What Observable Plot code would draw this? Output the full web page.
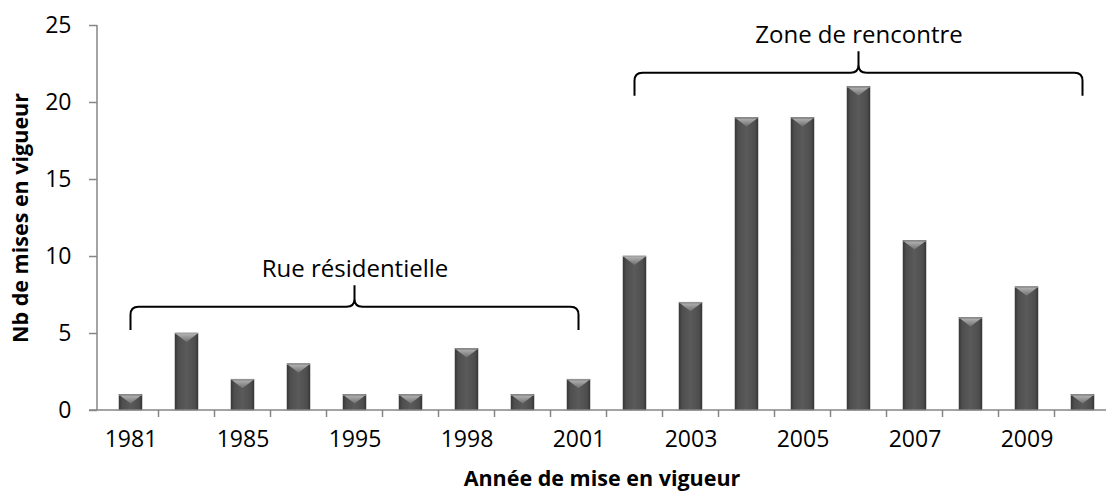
<!DOCTYPE html>
<html>
<head>
<meta charset="utf-8">
<script src="https://cdn.jsdelivr.net/npm/d3@7"></script>
<script src="https://cdn.jsdelivr.net/npm/@observablehq/plot@0.6"></script>
<style>
  html, body { margin: 0; padding: 0; background: #fff; overflow: hidden; }
  #chart svg { display: block; }
</style>
</head>
<body>
<svg width="0" height="0" style="position:absolute">
  <defs>
    <linearGradient id="barGrad" x1="0" x2="1" y1="0" y2="0">
      <stop offset="0%" stop-color="#383838"/>
      <stop offset="14%" stop-color="#4e4e4e"/>
      <stop offset="50%" stop-color="#5a5a5a"/>
      <stop offset="86%" stop-color="#4e4e4e"/>
      <stop offset="100%" stop-color="#383838"/>
    </linearGradient>
    <linearGradient id="bevelGrad" x1="0" x2="0" y1="0" y2="1">
      <stop offset="0%" stop-color="#b0b0b0"/>
      <stop offset="100%" stop-color="#707070"/>
    </linearGradient>
  </defs>
</svg>
<div id="chart"></div>
<script>
// ---- data ----
const years  = ["1981","1983","1985","1990","1995","1996","1998","1999","2001","2002","2003","2004","2005","2006","2007","2008","2009","2010"];
const counts = [1, 5, 2, 3, 1, 1, 4, 1, 2, 10, 7, 19, 19, 21, 11, 6, 8, 1];
const shownLabels = ["1981","1985","1995","1998","2001","2003","2005","2007","2009"];
const yTicks = [0, 5, 10, 15, 20, 25];

// annotation braces (in data terms: category span, middle category, value levels)
const braceNames  = ["Rue résidentielle", "Zone de rencontre"];
const braceFrom   = ["1981", "2002"];
const braceTo     = ["2001", "2010"];
const braceMid    = ["1995", "2006"];
const braceLine   = [6.7, 21.9];   // horizontal stroke level
const braceEnd    = [5.2, 20.4];   // level of the end hooks
const braceTip    = [8.1, 23.3];   // level of the middle tip
const braceText   = [9.2, 24.35];  // level of the label

const yLabel = "Nb de mises en vigueur";
const xLabel = "Année de mise en vigueur";

const data = years.map((y, i) => ({year: y, count: counts[i]}));
const braces = braceNames.map((n, i) => ({
  name: n, from: braceFrom[i], to: braceTo[i], mid: braceMid[i],
  line: braceLine[i], end: braceEnd[i], tip: braceTip[i], text: braceText[i]
}));

const FONT = "'Open Sans', Lato, sans-serif";
const AXIS = "#868686";

function axesMark(index, scales, values, dimensions) {
  const x = scales.x, y = scales.y;
  const step = x.step ? x.step() : (x(years[1]) - x(years[0]));
  const bw = x.bandwidth ? x.bandwidth() : 0;
  const g = d3.create("svg:g");
  const y0 = y(0);
  g.append("line").attr("x1", dimensions.marginLeft).attr("x2", dimensions.marginLeft)
    .attr("y1", y(25)).attr("y2", y0).attr("stroke", AXIS).attr("stroke-width", 1.5);
  g.append("line").attr("x1", dimensions.marginLeft - 8).attr("x2", dimensions.width)
    .attr("y1", y0).attr("y2", y0).attr("stroke", AXIS).attr("stroke-width", 1.5);
  years.forEach((yr, i) => {
    if (i === 0) return;
    const bx = x(yr) + bw / 2 - step / 2;
    g.append("line").attr("x1", bx).attr("x2", bx).attr("y1", y0).attr("y2", y0 + 7)
      .attr("stroke", AXIS).attr("stroke-width", 1.5);
  });
  return g.node();
}

function bevelMark(index, scales) {
  const x = scales.x, y = scales.y;
  const bw = x.bandwidth();
  const g = d3.create("svg:g");
  data.forEach(d => {
    const x0 = x(d.year), x1 = x0 + bw, top = y(d.count);
    const h = Math.min(9, (y(0) - top) * 0.6);
    g.append("polygon")
      .attr("points", `${x0 + 1},${top + 1} ${x1 - 1},${top + 1} ${(x0 + x1) / 2},${top + h}`)
      .attr("fill", "url(#bevelGrad)");
    g.append("line").attr("x1", x0).attr("x2", x1).attr("y1", top + 0.5).attr("y2", top + 0.5)
      .attr("stroke", "#a0a0a0").attr("stroke-width", 1);
  });
  return g.node();
}

function braceMark(index, scales) {
  const x = scales.x, y = scales.y;
  const bw = x.bandwidth();
  const c = v => x(v) + bw / 2;
  const g = d3.create("svg:g");
  braces.forEach(b => {
    const x0 = c(b.from), x1 = c(b.to), xm = c(b.mid);
    const yH = y(b.line), yE = y(b.end), yT = y(b.tip);
    const r = 8;
    const p = `M${x0},${yE} L${x0},${yH + r} Q${x0},${yH} ${x0 + r},${yH} ` +
      `L${xm - r},${yH} Q${xm},${yH} ${xm},${yH - r} L${xm},${yT} L${xm},${yH - r} ` +
      `Q${xm},${yH} ${xm + r},${yH} L${x1 - r},${yH} Q${x1},${yH} ${x1},${yH + r} L${x1},${yE}`;
    g.append("path").attr("d", p).attr("fill", "none").attr("stroke", "#000").attr("stroke-width", 2);
  });
  return g.node();
}

const chart = Plot.plot({
  width: 1106,
  height: 496,
  marginLeft: 97,
  marginRight: 0,
  marginTop: 25,
  marginBottom: 86,
  style: {fontFamily: FONT, background: "#fff", overflow: "hidden"},
  x: {domain: years, range: [97, 1116.7], paddingInner: 0.59, paddingOuter: 0.295, align: 0.5},
  y: {domain: [0, 25], range: [410, 25]},
  marks: [
    Plot.barY(data, {x: "year", y: "count", fill: "url(#barGrad)", stroke: "#3a3a3a", strokeWidth: 0.5}),
    bevelMark,
    axesMark,
    Plot.axisY({ticks: yTicks, tickSize: 8, tickPadding: 18, stroke: AXIS, strokeWidth: 1.5,
      fontSize: 23, fill: "#000", label: null}),
    Plot.axisX({tickSize: 0, tickPadding: 20, fontSize: 23, fill: "#000", label: null,
      tickFormat: d => shownLabels.includes(d) ? d : ""}),
    braceMark,
    Plot.text(braces, {x: "mid", y: "text", text: "name", fontSize: 24, fill: "#000"}),
    Plot.text([yLabel], {frameAnchor: "left", dx: -76, rotate: -90, textAnchor: "middle", fontSize: 21.5, fontWeight: "bold", fill: "#000"}),
    Plot.text([xLabel], {frameAnchor: "bottom", dy: 75, fontSize: 21.5, fontWeight: "bold", fill: "#000"})
  ]
});
document.getElementById("chart").appendChild(chart);
</script>
</body>
</html>
